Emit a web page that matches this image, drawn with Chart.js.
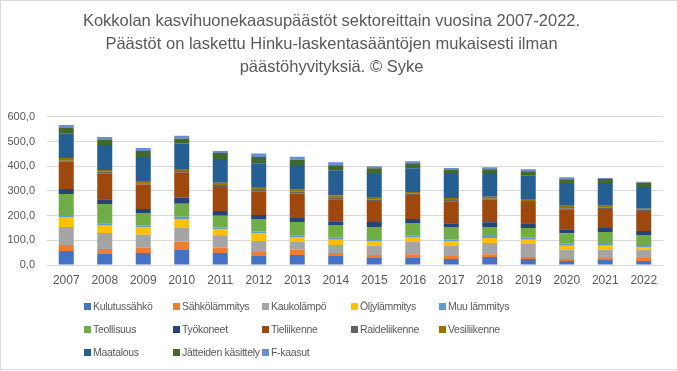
<!DOCTYPE html>
<html>
<head>
<meta charset="utf-8">
<script src="https://cdn.jsdelivr.net/npm/chart.js@4/dist/chart.umd.min.js"></script>
<style>
  html, body { margin: 0; padding: 0; background: #ffffff; }
  #wrap { position: relative; width: 677px; height: 371px; overflow: hidden; }
  #frame { position: absolute; left: 0; top: 0; width: 680px; height: 370px;
           box-sizing: border-box; border: 1px solid #d9d9d9; pointer-events: none; }
  #legend { position: absolute; left: 0; top: 0; width: 677px; height: 371px; pointer-events: none;
            font-family: 'Liberation Sans', Arial, sans-serif; font-size: 10.5px; color: #595959;
            letter-spacing: -0.3px; }
  .item { position: absolute; white-space: nowrap; line-height: 14px; }
  .box { display: inline-block; width: 7px; height: 7px; margin-right: 2px; vertical-align: 0px; }
</style>
</head>
<body>
<div id="wrap">
  <canvas id="chart" width="677" height="371"></canvas>
  <div id="legend"></div>
  <div id="frame"></div>
</div>
<script>
// Kokkolan kasvihuonekaasupäästöt (kt CO2e), luettu kuvasta
const years = ['2007', '2008', '2009', '2010', '2011', '2012', '2013', '2014',
               '2015', '2016', '2017', '2018', '2019', '2020', '2021', '2022'];

const kulutussahko  = [56.7, 44.6, 49.0, 61.0, 49.0, 36.5, 40.5, 36.5, 28.0, 28.0, 24.0, 32.0, 24.0, 16.0, 20.0, 16.0];
const sahkolammitys = [24.0, 20.0, 22.0, 34.0, 22.0, 16.0, 22.0, 12.0, 12.0, 16.0, 12.0, 12.0, 8.0, 8.0, 8.0, 12.0];
const kaukolampo    = [73.0, 65.0, 51.0, 57.0, 49.0, 45.0, 31.0, 32.0, 38.0, 49.0, 40.5, 45.0, 53.0, 38.0, 34.0, 34.0];
const oljylammitys  = [40.5, 32.0, 30.0, 32.0, 24.0, 30.0, 20.0, 22.0, 19.0, 20.0, 20.0, 20.0, 17.5, 16.0, 16.0, 11.0];
const muuLammitys   = [8.0, 7.0, 8.0, 11.0, 8.0, 8.0, 7.0, 8.0, 8.0, 7.0, 7.0, 8.0, 8.0, 8.0, 7.0, 8.0];
const teollisuus    = [85.0, 78.0, 51.0, 53.0, 47.0, 51.0, 54.0, 51.0, 49.0, 50.0, 50.0, 36.5, 39.0, 43.0, 49.0, 40.5];
const tyokoneet     = [20.0, 20.0, 16.0, 24.0, 20.0, 16.0, 16.0, 16.0, 20.0, 16.0, 16.0, 20.0, 20.0, 16.0, 16.0, 16.0];
const tieliikenne   = [111.0, 103.0, 99.0, 101.0, 97.0, 96.0, 99.0, 89.0, 85.0, 97.0, 89.0, 90.5, 86.0, 81.0, 77.0, 81.0];
const raideliikenne = [4.0, 8.0, 5.0, 8.0, 8.0, 5.0, 7.0, 8.0, 5.0, 5.0, 5.0, 4.0, 4.0, 4.0, 5.0, 5.0];
const vesiliikenne  = [11.0, 7.0, 9.5, 8.0, 9.5, 12.0, 8.0, 8.0, 11.0, 8.0, 8.0, 8.0, 8.0, 9.5, 8.0, 4.0];
const maatalous     = [98.6, 101.0, 97.0, 103.0, 96.0, 96.0, 100.0, 101.0, 97.0, 96.0, 97.0, 96.0, 96.0, 92.0, 92.0, 88.0];
const jatteet       = [23.0, 22.0, 24.0, 19.0, 24.0, 26.0, 22.0, 20.0, 20.0, 20.0, 16.0, 16.0, 16.0, 16.0, 16.0, 17.5];
const fkaasut       = [12.0, 11.0, 12.0, 12.0, 8.0, 13.5, 12.0, 12.0, 8.0, 8.0, 8.0, 8.0, 8.0, 8.0, 4.0, 4.0];

const seriesLabels = ['Kulutussähkö', 'Sähkölämmitys', 'Kaukolämpö', 'Öljylämmitys', 'Muu lämmitys',
                      'Teollisuus', 'Työkoneet', 'Tieliikenne', 'Raideliikenne', 'Vesiliikenne',
                      'Maatalous', 'Jätteiden käsittely', 'F-kaasut'];
const seriesData = [kulutussahko, sahkolammitys, kaukolampo, oljylammitys, muuLammitys,
                    teollisuus, tyokoneet, tieliikenne, raideliikenne, vesiliikenne,
                    maatalous, jatteet, fkaasut];
const yTicks = [0, 100, 200, 300, 400, 500, 600];

// Office-teeman värit
const PALETTE = ['#4472c4', '#ed7d31', '#a5a5a5', '#ffc000', '#5b9bd5', '#70ad47', '#264478',
                 '#9e480e', '#636363', '#997300', '#255e91', '#43682b', '#698ed0'];

const FONT = "'Liberation Sans', Arial, sans-serif";
const TEXT = '#595959';
const GRID = '#d9d9d9';

const datasets = seriesLabels.map((label, i) => ({
  label: label,
  data: seriesData[i],
  backgroundColor: PALETTE[i],
  borderWidth: 0,
  categoryPercentage: 1.0,
  barPercentage: 0.39
}));

const chart = new Chart(document.getElementById('chart').getContext('2d'), {
  type: 'bar',
  data: { labels: years, datasets: datasets },
  options: {
    responsive: false,
    animation: false,
    layout: { padding: { left: 0, right: 14, top: 0, bottom: 84 } },
    plugins: {
      legend: { display: false },
      tooltip: { enabled: false },
      title: {
        display: true,
        text: ['Kokkolan kasvihuonekaasupäästöt sektoreittain vuosina 2007-2022.',
               'Päästöt on laskettu Hinku-laskentasääntöjen mukaisesti ilman',
               'päästöhyvityksiä. © Syke'],
        color: TEXT,
        font: { family: FONT, size: 16.5, weight: 'normal', lineHeight: 1.4 },
        padding: { top: 9.5, bottom: 38 }
      }
    },
    scales: {
      x: {
        stacked: true,
        grid: { display: false, drawTicks: false },
        border: { display: true, color: GRID },
        ticks: { color: TEXT, font: { family: FONT, size: 12 }, padding: 8, maxRotation: 0 },
        afterFit: function (s) { s.height = 22; }
      },
      y: {
        stacked: true,
        min: 0,
        max: 600,
        afterBuildTicks: function (s) { s.ticks = yTicks.map(v => ({ value: v })); },
        grid: { color: GRID, drawTicks: false },
        border: { display: false },
        ticks: {
          color: TEXT,
          font: { family: FONT, size: 11 },
          padding: 12,
          callback: function (v) { return v.toFixed(1).replace('.', ','); }
        },
        afterFit: function (s) { s.width = 47; }
      }
    }
  }
});

// Legend in columns like the original, built from the chart datasets
const legendEl = document.getElementById('legend');
const colX = [84, 173, 262, 351, 439];
const rowY = [299, 322, 345];
chart.data.datasets.forEach((ds, i) => {
  const item = document.createElement('div');
  item.className = 'item';
  item.style.left = colX[i % 5] + 'px';
  item.style.top = rowY[Math.floor(i / 5)] + 'px';
  const box = document.createElement('span');
  box.className = 'box';
  box.style.background = ds.backgroundColor;
  item.appendChild(box);
  item.appendChild(document.createTextNode(ds.label));
  legendEl.appendChild(item);
});
</script>
</body>
</html>
